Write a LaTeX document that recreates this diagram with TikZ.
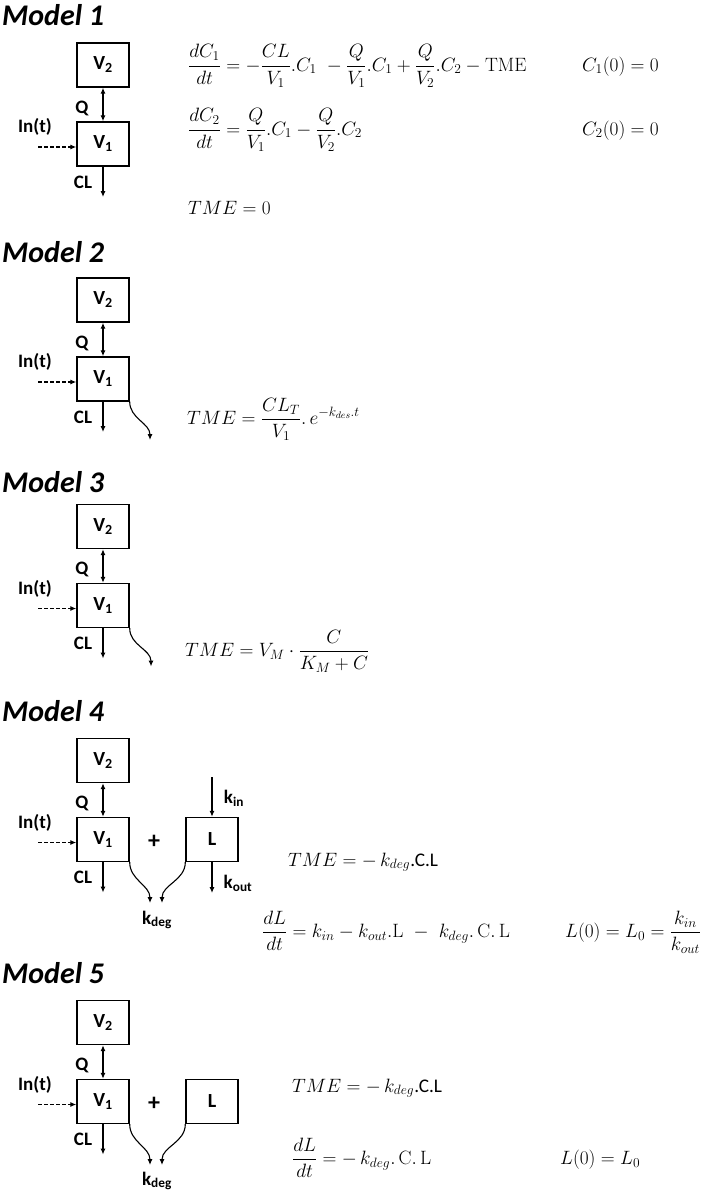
\documentclass[tikz,border=0pt]{standalone}
\usepackage{fix-cm}
\usepackage{amsmath}
\usepackage{fontspec}
\newfontfamily\carlito{Carlito}
\usetikzlibrary{arrows.meta}
\tikzset{
  box/.style={draw, line width=1.4pt, minimum width=52pt, minimum height=44pt, inner sep=0pt,
    font=\carlito\bfseries\fontsize{20}{24}\selectfont},
  lab/.style={inner sep=0pt, font=\carlito\bfseries\fontsize{19}{22}\selectfont},
  plus/.style={inner sep=0pt, font=\carlito\bfseries\fontsize{24}{28}\selectfont},
  ttl/.style={anchor=west, inner sep=0pt, font=\carlito\bfseries\itshape\fontsize{30}{36}\selectfont},
  eq/.style={anchor=base west, inner sep=0pt, font=\fontsize{19.3}{23}\selectfont},
  tip/.tip={Latex[length=6pt,width=5pt]},
  arr/.style={line width=1.1pt, -tip},
  dbl/.style={line width=1.1pt, tip-tip},
  dsh/.style={line width=1.1pt, -tip, dash pattern=on 3.5pt off 2.5pt},
  curv/.style={line width=1.1pt, -tip},
}
\newcommand\pkpart[2]{%
  \node[box] (#1v2) at (103,#2-79) {V\textsubscript{2}};
  \node[box] (#1v1) at (103,#2) {V\textsubscript{1}};
  \draw[dbl] (#1v2) -- (#1v1);
  \node[lab] (#1q) at (82,#2-36) {Q};
  \node[lab] (#1in) at (35,#2-17) {In(t)};
  \coordinate (#1ins) at (38,#2+3);
  \draw[dsh] (#1ins) -- (#1ins -| #1v1.west);
  \node[lab] (#1cl) at (83,#2+38) {CL};
  \coordinate (#1cle) at (103,#2+53);
  \draw[arr] (#1v1.south) -- (#1cle);
}
\begin{document}
\begin{tikzpicture}[x=1pt,y=-1pt]
\useasboundingbox (0,0) rectangle (709,1194);
% ---------------- Model 1
\node[ttl] (t1) at (2,15) {Model 1};
\pkpart{a}{144}
\node[eq] (a1) at (188,71) {$\displaystyle \frac{dC_1}{dt} = -\frac{CL}{V_1}.C_1\ -\frac{Q}{V_1}.C_1 + \frac{Q}{V_2}.C_2 - \mathrm{TME}$};
\node[eq] (a2) at (582,71) {$C_1(0) = 0$};
\node[eq] (a3) at (188,135) {$\displaystyle \frac{dC_2}{dt} = \frac{Q}{V_1}.C_1 - \frac{Q}{V_2}.C_2$};
\node[eq] (a4) at (582,135) {$C_2(0) = 0$};
\node[eq] (a5) at (188,214) {$TME = 0$};
% ---------------- Model 2
\node[ttl] (t2) at (2,252) {Model 2};
\pkpart{b}{379}
\coordinate (bd) at (150,440);
\draw[curv] (bv1.south east) to[out=-90,in=90] (bd);
\node[eq] (b1) at (187,424.5) {$\displaystyle TME = \frac{CL_T}{V_1}.\,e^{-k_{des}.t}$};
% ---------------- Model 3
\node[ttl] (t3) at (2,482) {Model 3};
\pkpart{c}{605.5}
\coordinate (cd) at (151,666.5);
\draw[curv] (cv1.south east) to[out=-90,in=90] (cd);
\node[eq] (c1) at (185,656.5) {$\displaystyle TME = V_M\cdot\frac{C}{K_M + C}$};
% ---------------- Model 4
\node[ttl] (t4) at (2,711) {Model 4};
\pkpart{d}{839.5}
\node[box] (dl) at (212,839.5) {L};
\node[plus] (dp) at (154,842) {+};
\coordinate (dkin) at (212,777);
\draw[arr] (dkin) -- (dl.north);
\node[lab] (dkinl) at (234,798) {k\textsubscript{in}};
\coordinate (dkout) at (212,893);
\draw[arr] (dl.south) -- (dkout);
\node[lab] (dkoutl) at (238,883) {k\textsubscript{out}};
\coordinate (dda) at (150,903);
\coordinate (ddb) at (162,903);
\draw[curv] (dv1.south east) to[out=-90,in=90] (dda);
\draw[curv] (dl.south west) to[out=-90,in=90] (ddb);
\node[lab] (dkdeg) at (157,920) {k\textsubscript{deg}};
\node[eq] (d1) at (288,866) {$TME = -\,k_{deg}${\carlito .C.L}};
\node[eq] (d2) at (262,937.5) {$\displaystyle \frac{dL}{dt} = k_{in} - k_{out}.\mathrm{L}\ -\ k_{deg}.\,\mathrm{C.\,L}$};
\node[eq] (d3) at (565,937.5) {$\displaystyle L(0) = L_0 = \frac{k_{in}}{k_{out}}$};
% ---------------- Model 5
\node[ttl] (t5) at (2,973) {Model 5};
\pkpart{e}{1101.5}
\node[box] (el) at (212,1101.5) {L};
\node[plus] (ep) at (154,1104) {+};
\coordinate (eda) at (150,1165);
\coordinate (edb) at (162,1165);
\draw[curv] (ev1.south east) to[out=-90,in=90] (eda);
\draw[curv] (el.south west) to[out=-90,in=90] (edb);
\node[lab] (ekdeg) at (157,1181) {k\textsubscript{deg}};
\node[eq] (e1) at (292,1092) {$TME = -\,k_{deg}${\carlito .C.L}};
\node[eq] (e2) at (292,1164.5) {$\displaystyle \frac{dL}{dt} = -\,k_{deg}.\,\mathrm{C.\,L}$};
\node[eq] (e3) at (560,1164.5) {$L(0) = L_0$};
\end{tikzpicture}
\end{document}
